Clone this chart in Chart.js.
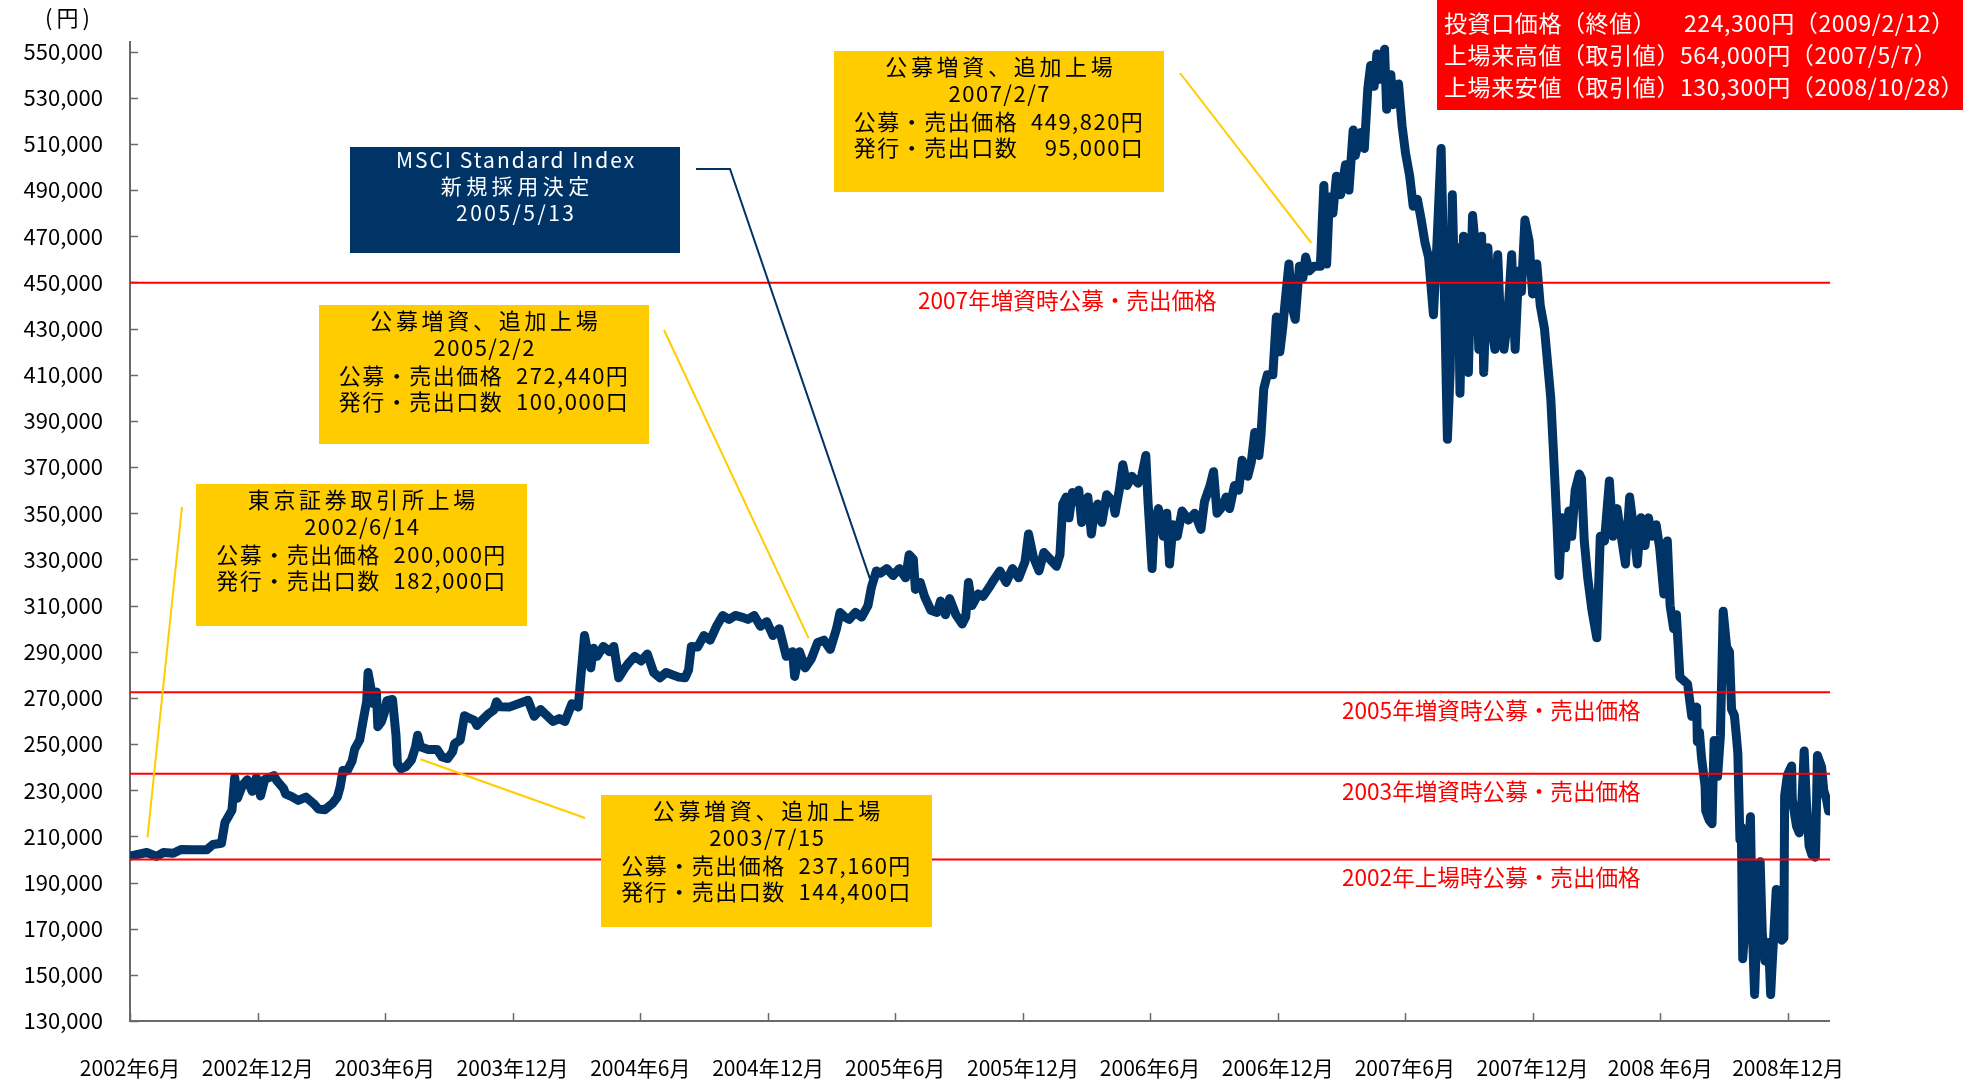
<!DOCTYPE html>
<html lang="ja">
<head>
<meta charset="utf-8">
<title>投資口価格の推移</title>
<script src="https://cdn.jsdelivr.net/npm/chart.js@4.4.1/dist/chart.umd.min.js"></script>
<style>
  html, body { margin: 0; padding: 0; background: #ffffff; }
  #wrap { position: relative; width: 1973px; height: 1082px; }
  canvas { display: block; }
</style>
</head>
<body>
<div id="wrap"><canvas id="chart" width="1973" height="1082"></canvas></div>
<script>
// 投資口価格（終値, 円）— [日付, 終値]
const close2002 = [
  ['2002-06-14',201500],['2002-07-08',203000],['2002-07-22',201300],['2002-08-01',203000],['2002-08-15',202700],
  ['2002-08-26',204300],['2002-09-13',204200],['2002-10-02',204200],['2002-10-11',206500],['2002-10-23',207000],
  ['2002-10-28',216000],['2002-11-07',221300],['2002-11-11',235500],['2002-11-15',226500],['2002-11-22',232100],
  ['2002-11-29',234500],['2002-12-06',229500],['2002-12-12',235500],['2002-12-18',227500],['2002-12-24',234700]
];
const close2003 = [
  ['2003-01-06',236300],['2003-01-10',234300],['2003-01-20',230700],['2003-01-23',228300],['2003-01-31',227300],
  ['2003-02-10',225600],['2003-02-21',227000],['2003-03-04',224200],['2003-03-11',221800],['2003-03-20',221500],
  ['2003-03-31',224200],['2003-04-07',227000],['2003-04-11',231400],['2003-04-15',238500],['2003-04-21',238300],
  ['2003-04-28',242500],['2003-05-02',248000],['2003-05-09',251700],['2003-05-14',260300],['2003-05-19',268500],
  ['2003-05-21',281000],['2003-05-26',272600],['2003-05-28',267600],['2003-06-02',272500],['2003-06-04',257500],
  ['2003-06-09',259600],['2003-06-13',263200],['2003-06-17',268800],['2003-06-25',269300],['2003-06-30',253800],
  ['2003-07-02',241500],['2003-07-07',239300],['2003-07-14',240100],['2003-07-22',243000],['2003-07-28',248800],
  ['2003-07-31',253800],['2003-08-04',248800],['2003-08-15',247600],['2003-08-28',247600],['2003-09-04',244400],
  ['2003-09-12',243700],['2003-09-19',246600],['2003-09-22',250200],['2003-09-30',251700],['2003-10-06',262300],
  ['2003-10-09',261800],['2003-10-20',260300],['2003-10-24',258000],['2003-10-31',260300],['2003-11-10',263200],
  ['2003-11-17',264700],['2003-11-21',268300],['2003-11-26',266100],['2003-12-09',266000]
];
const close2004 = [
  ['2004-01-05',269000],['2004-01-14',262000],['2004-01-23',265000],['2004-02-10',259800],['2004-02-19',261000],
  ['2004-02-27',259800],['2004-03-08',267500],['2004-03-17',266000],['2004-03-21',280000],['2004-03-26',297000],
  ['2004-04-04',283000],['2004-04-08',291500],['2004-04-13',288000],['2004-04-22',292300],['2004-05-01',290000],
  ['2004-05-07',292300],['2004-05-14',278700],['2004-05-23',283000],['2004-05-28',285000],['2004-06-06',288000],
  ['2004-06-15',286000],['2004-06-24',289000],['2004-07-03',281000],['2004-07-12',278700],['2004-07-21',281000],
  ['2004-08-08',279000],['2004-08-17',278700],['2004-08-22',282000],['2004-08-26',292300],['2004-09-04',292000],
  ['2004-09-13',297000],['2004-09-22',295000],['2004-10-01',301000],['2004-10-10',305700],['2004-10-19',304000],
  ['2004-10-28',305700],['2004-11-06',305000],['2004-11-15',304000],['2004-11-24',305700],['2004-12-03',301000],
  ['2004-12-12',303000],['2004-12-21',297000],['2004-12-30',300000]
];
const close2005 = [
  ['2005-01-09',288000],['2005-01-18',290000],['2005-01-21',279300],['2005-01-28',290000],['2005-02-05',283000],
  ['2005-02-14',287000],['2005-02-23',294000],['2005-03-04',295000],['2005-03-13',291000],['2005-03-22',300000],
  ['2005-03-27',307000],['2005-04-03',305000],['2005-04-09',304000],['2005-04-18',307000],['2005-04-27',305000],
  ['2005-05-06',310000],['2005-05-11',318000],['2005-05-18',325000],['2005-05-24',324000],['2005-06-02',326000],
  ['2005-06-11',323000],['2005-06-20',326000],['2005-06-29',322000],['2005-07-04',332000],['2005-07-10',330000],
  ['2005-07-13',317000],['2005-07-20',320000],['2005-07-26',314000],['2005-08-04',308000],['2005-08-13',307000],
  ['2005-08-18',312000],['2005-08-25',306000],['2005-08-31',313000],['2005-09-09',306000],['2005-09-18',302000],
  ['2005-09-23',305000],['2005-09-27',320000],['2005-10-02',310000],['2005-10-11',315000],['2005-10-18',314000],
  ['2005-10-27',318000],['2005-11-02',321000],['2005-11-11',325000],['2005-11-20',320000],['2005-11-29',326000],
  ['2005-12-08',322000],['2005-12-17',329000],['2005-12-22',341000],['2005-12-29',331000]
];
const close2006 = [
  ['2006-01-06',325000],['2006-01-13',333000],['2006-01-22',330000],['2006-01-31',327000],['2006-02-05',332000],
  ['2006-02-09',354000],['2006-02-14',357000],['2006-02-18',348000],['2006-02-23',359000],['2006-02-27',355000],
  ['2006-03-04',360000],['2006-03-08',346000],['2006-03-17',357000],['2006-03-22',341000],['2006-03-26',350000],
  ['2006-03-31',354000],['2006-04-06',346000],['2006-04-13',358000],['2006-04-22',355000],['2006-04-25',350000],
  ['2006-05-01',360000],['2006-05-06',371000],['2006-05-12',362000],['2006-05-19',366000],['2006-05-28',363000],
  ['2006-06-02',366000],['2006-06-08',375000],['2006-06-11',356000],['2006-06-17',326000],['2006-06-20',345000],
  ['2006-06-26',352000],['2006-07-03',340000],['2006-07-08',350000],['2006-07-12',328000],['2006-07-17',345000],
  ['2006-07-23',340000],['2006-07-30',351000],['2006-08-08',347000],['2006-08-17',350000],['2006-08-26',343000],
  ['2006-08-31',355000],['2006-09-08',362000],['2006-09-13',368000],['2006-09-18',350000],['2006-09-26',353000],
  ['2006-10-01',357000],['2006-10-06',352000],['2006-10-13',362000],['2006-10-19',360000],['2006-10-24',373000],
  ['2006-11-01',366000],['2006-11-06',372000],['2006-11-11',385000],['2006-11-17',375000],['2006-11-20',384000],
  ['2006-11-24',404000],['2006-11-29',410000],['2006-12-07',410000],['2006-12-12',435000],['2006-12-17',420000],
  ['2006-12-21',430000],['2006-12-25',443000],['2006-12-30',458000]
];
const close2007 = [
  ['2007-01-03',440000],['2007-01-08',434000],['2007-01-14',457000],['2007-01-19',452000],['2007-01-23',461000],
  ['2007-01-28',455000],['2007-02-04',457000],['2007-02-13',457000],['2007-02-18',492000],['2007-02-22',458000],
  ['2007-02-26',487000],['2007-03-03',480000],['2007-03-08',496000],['2007-03-14',488000],['2007-03-21',501000],
  ['2007-03-26',490000],['2007-04-01',516000],['2007-04-04',505000],['2007-04-12',515000],['2007-04-17',508000],
  ['2007-04-22',534000],['2007-04-26',544000],['2007-05-01',535000],['2007-05-05',549000],['2007-05-10',538000],
  ['2007-05-16',551000],['2007-05-19',525000],['2007-05-25',540000],['2007-05-28',527000],['2007-06-05',536000],
  ['2007-06-10',518000],['2007-06-15',506000],['2007-06-21',496000],['2007-06-26',483000],['2007-07-02',486000],
  ['2007-07-07',478000],['2007-07-13',467000],['2007-07-18',461000],['2007-07-25',436000],['2007-07-29',460000],
  ['2007-08-05',508000],['2007-08-09',455000],['2007-08-14',382000],['2007-08-18',412000],['2007-08-21',488000],
  ['2007-08-25',440000],['2007-08-29',465000],['2007-09-01',402000],['2007-09-06',470000],['2007-09-10',455000],
  ['2007-09-13',411000],['2007-09-19',479000],['2007-09-24',462000],['2007-09-28',421000],['2007-10-02',470000],
  ['2007-10-05',411000],['2007-10-11',465000],['2007-10-16',432000],['2007-10-21',421000],['2007-10-25',462000],
  ['2007-10-28',440000],['2007-11-03',421000],['2007-11-08',433000],['2007-11-14',462000],['2007-11-19',421000],
  ['2007-11-24',455000],['2007-11-28',446000],['2007-12-03',477000],['2007-12-09',468000],['2007-12-14',445000],
  ['2007-12-20',458000],['2007-12-25',440000],['2007-12-31',430000]
];
const close2008 = [
  ['2008-01-03',420000],['2008-01-09',400000],['2008-01-14',370000],['2008-01-18',345000],['2008-01-21',323000],
  ['2008-01-25',348000],['2008-01-30',335000],['2008-02-04',351000],['2008-02-08',340000],['2008-02-13',360000],
  ['2008-02-19',367000],['2008-02-22',365000],['2008-02-26',338000],['2008-03-02',322000],['2008-03-08',308000],
  ['2008-03-15',296000],['2008-03-20',340000],['2008-03-26',338000],['2008-04-02',364000],['2008-04-07',340000],
  ['2008-04-13',352000],['2008-04-20',338000],['2008-04-25',328000],['2008-05-01',357000],['2008-05-06',345000],
  ['2008-05-12',328000],['2008-05-17',348000],['2008-05-23',336000],['2008-05-28',348000],['2008-06-02',340000],
  ['2008-06-08',345000],['2008-06-13',335000],['2008-06-19',315000],['2008-06-24',338000],['2008-06-28',310000],
  ['2008-07-03',300000],['2008-07-07',306000],['2008-07-12',279000],['2008-07-23',276000],['2008-07-29',262000],
  ['2008-08-05',266000],['2008-08-06',251000],['2008-08-09',255000],['2008-08-12',244000],['2008-08-17',232000],
  ['2008-08-18',221000],['2008-08-23',217000],['2008-08-27',215500],['2008-08-30',251500],['2008-09-04',236000],
  ['2008-09-08',253500],['2008-09-12',307500],['2008-09-17',292000],['2008-09-21',290000],['2008-09-24',265000],
  ['2008-09-28',262500],['2008-10-01',253000],['2008-10-03',246000],['2008-10-06',208500],['2008-10-08',214000],
  ['2008-10-10',157000],['2008-10-15',179000],['2008-10-21',218500],['2008-10-24',168000],['2008-10-27',141500],
  ['2008-10-30',168000],['2008-11-04',199000],['2008-11-07',168000],['2008-11-11',156000],['2008-11-16',164000],
  ['2008-11-19',141500],['2008-11-21',153600],['2008-11-27',187000],['2008-12-05',165000],['2008-12-08',166000],
  ['2008-12-09',227500],['2008-12-13',236500],['2008-12-19',240500],['2008-12-20',226000],['2008-12-26',214500],
  ['2008-12-30',211500]
];
const close2009 = [
  ['2009-01-02',220000],['2009-01-06',247000],['2009-01-09',226000],['2009-01-13',206000],['2009-01-17',202000],
  ['2009-01-22',201000],['2009-01-23',214000],['2009-01-25',245000],['2009-01-31',240000],['2009-02-03',230000],
  ['2009-02-07',226000],['2009-02-10',221000],['2009-02-12',224300]
];

// 公募・売出価格（円）と注記
const offerPrices = [449820, 272440, 237160, 200000];
const offerLabels = ['2007年増資時公募・売出価格', '2005年増資時公募・売出価格', '2003年増資時公募・売出価格', '2002年上場時公募・売出価格'];

// 軸目盛
const xTickDates  = ['2002-06-14','2002-12-14','2003-06-14','2003-12-14','2004-06-14','2004-12-14','2005-06-14',
                     '2005-12-14','2006-06-14','2006-12-14','2007-06-14','2007-12-14','2008-06-14','2008-12-14'];
const xTickLabels = ['2002年6月','2002年12月','2003年6月','2003年12月','2004年6月','2004年12月','2005年6月',
                     '2005年12月','2006年6月','2006年12月','2007年6月','2007年12月','2008 年6月','2008年12月'];
const yTickValues = [130000,150000,170000,190000,210000,230000,250000,270000,290000,310000,330000,
                     350000,370000,390000,410000,430000,450000,470000,490000,510000,530000,550000];
const xRange = ['2002-06-14', '2009-02-12'];
const yRange = [130000, 554600];

// 注記の文言
const noteListing = ['東京証券取引所上場', '2002/6/14', ['公募・売出価格', '200,000円'], ['発行・売出口数', '182,000口']];
const note2003    = ['公募増資、追加上場', '2003/7/15', ['公募・売出価格', '237,160円'], ['発行・売出口数', '144,400口']];
const note2005    = ['公募増資、追加上場', '2005/2/2',  ['公募・売出価格', '272,440円'], ['発行・売出口数', '100,000口']];
const note2007    = ['公募増資、追加上場', '2007/2/7',  ['公募・売出価格', '449,820円'], ['発行・売出口数', '95,000口']];
const noteMsci    = ['MSCI Standard Index', '新規採用決定', '2005/5/13'];
const summaryRows = [
  ['投資口価格（終値）', '224,300円（2009/2/12）'],
  ['上場来高値（取引値）', '564,000円（2007/5/7）'],
  ['上場来安値（取引値）', '130,300円（2008/10/28）']
];
const unitLabel = '(円)';

// ---------------------------------------------------------------
const FONT = "'Noto Sans CJK JP', 'Noto Sans CJK SC', sans-serif";
const NAVY = '#003366';
const GOLD = '#FFCC00';
const RED = '#FF0000';
const AXIS = '#6a6a6a';

const toDay = s => Date.UTC(+s.slice(0, 4), +s.slice(5, 7) - 1, +s.slice(8, 10)) / 864e5;
const toPoints = rows => rows.map(([d, v]) => ({ x: toDay(d), y: v }));

const pricePoints = toPoints([].concat(close2002, close2003, close2004, close2005, close2006, close2007, close2008, close2009));
const offerDatasets = offerPrices.map(p => ({
  data: [{ x: toDay(xRange[0]), y: p }, { x: toDay(xRange[1]), y: p }],
  borderColor: RED, borderWidth: 2, pointRadius: 0, order: 0
}));

// 注記ボックスの配置（行ごとの字間つき）
const noteLayout = [
  { lines: noteListing, rect: [196, 484, 331, 142], fill: GOLD, color: '#000', size: 22, spacing: [3.7, 1.5, 1.5, 1.5], rows: [16, 43, 71, 97],
    leader: { from: [182, 507], date: '2002-07-09', value: 209600, color: GOLD } },
  { lines: note2005, rect: [319, 305, 330, 139], fill: GOLD, color: '#000', size: 22, spacing: [3.7, 1.5, 1.5, 1.5], rows: [16, 43, 71, 97],
    leader: { from: [664, 330], date: '2005-02-10', value: 295900, color: GOLD } },
  { lines: note2003, rect: [601, 795, 331, 132], fill: GOLD, color: '#000', size: 22, spacing: [3.7, 1.5, 1.5, 1.5], rows: [16, 43, 71, 97],
    leader: { from: [585, 818], date: '2003-08-04', value: 243400, color: GOLD } },
  { lines: note2007, rect: [834, 51, 330, 141], fill: GOLD, color: '#000', size: 22, spacing: [3.7, 1.5, 1.5, 1.5], rows: [16, 43, 71, 97],
    leader: { from: [1180, 73], date: '2007-01-31', value: 467100, color: GOLD } },
  { lines: noteMsci, rect: [350, 147, 330, 106], fill: NAVY, color: '#fff', size: 21, spacing: [2, 4.5, 2.5], rows: [13, 39, 66],
    leader: { from: [696, 169], via: [730, 169], date: '2005-05-10', value: 320600, color: NAVY } }
];

function drawNote(ctx, n) {
  const [bx, by, bw, bh] = n.rect;
  ctx.fillStyle = n.fill;
  ctx.fillRect(bx, by, bw, bh);
  ctx.fillStyle = n.color;
  ctx.font = `${n.size}px ${FONT}`;
  ctx.textBaseline = 'middle';
  const cx = bx + bw / 2;
  let half = 0;
  if (Array.isArray(n.lines[2])) {
    ctx.letterSpacing = n.spacing[2] + 'px';
    half = ctx.measureText(n.lines[2][0] + '  ' + n.lines[2][1]).width / 2;
  }
  n.lines.forEach((ln, i) => {
    const ty = by + n.rows[i];
    ctx.letterSpacing = n.spacing[i] + 'px';
    if (Array.isArray(ln)) {
      ctx.textAlign = 'left';
      ctx.fillText(ln[0], cx - half, ty);
      ctx.textAlign = 'right';
      ctx.fillText(ln[1], cx + half, ty);
    } else {
      ctx.textAlign = 'center';
      ctx.fillText(ln, cx + n.spacing[i] / 2, ty);
    }
  });
}

const decorPlugin = {
  id: 'decor',
  beforeDatasetsDraw(chart) {
    const { ctx, chartArea: a, scales: { x, y } } = chart;
    ctx.save();
    ctx.strokeStyle = AXIS;
    ctx.lineWidth = 2;
    ctx.beginPath();
    ctx.moveTo(a.left, a.top);
    ctx.lineTo(a.left, a.bottom);
    ctx.lineTo(a.right, a.bottom);
    ctx.stroke();
    ctx.lineWidth = 1.5;
    y.ticks.forEach(t => {
      const py = Math.round(y.getPixelForValue(t.value)) + 0.5;
      ctx.beginPath(); ctx.moveTo(a.left, py); ctx.lineTo(a.left + 8, py); ctx.stroke();
    });
    x.ticks.forEach(t => {
      const px = Math.round(x.getPixelForValue(t.value)) + 0.5;
      ctx.beginPath(); ctx.moveTo(px, a.bottom); ctx.lineTo(px, a.bottom - 8); ctx.stroke();
    });
    ctx.restore();
  },
  afterDatasetsDraw(chart) {
    const { ctx, scales: { x, y } } = chart;
    ctx.save();
    // 引出線
    noteLayout.forEach(n => {
      const L = n.leader;
      ctx.strokeStyle = L.color;
      ctx.lineWidth = 2;
      ctx.beginPath();
      ctx.moveTo(L.from[0], L.from[1]);
      if (L.via) ctx.lineTo(L.via[0], L.via[1]);
      ctx.lineTo(x.getPixelForValue(toDay(L.date)), y.getPixelForValue(L.value));
      ctx.stroke();
    });
    // 注記ボックス
    noteLayout.forEach(n => drawNote(ctx, n));

    // 公募・売出価格の注記
    ctx.font = `22.6px ${FONT}`;
    ctx.letterSpacing = '0px';
    ctx.fillStyle = RED;
    ctx.textAlign = 'left';
    ctx.textBaseline = 'middle';
    offerPrices.forEach((p, i) => {
      const lx = i === 0 ? 918 : 1342;
      ctx.fillText(offerLabels[i], lx, y.getPixelForValue(p) + 18);
    });

    // 価格サマリー
    ctx.fillStyle = RED;
    ctx.fillRect(1437, 0, 526, 110);
    ctx.fillStyle = '#fff';
    ctx.font = `23px ${FONT}`;
    ctx.letterSpacing = '0.6px';
    const valueX = 1444 + ctx.measureText(summaryRows[1][0]).width + 4;
    summaryRows.forEach((r, i) => {
      const ty = 23 + i * 32;
      ctx.fillText(r[0], 1444, ty);
      ctx.fillText(r[1], i === 0 ? valueX : 1444 + ctx.measureText(r[0]).width, ty);
    });

    // 単位
    ctx.fillStyle = '#000';
    ctx.font = `22px ${FONT}`;
    ctx.letterSpacing = '4px';
    ctx.fillText(unitLabel, 45, 18);
    ctx.restore();
  }
};

new Chart(document.getElementById('chart'), {
  type: 'line',
  data: {
    datasets: [
      ...offerDatasets,
      {
        data: pricePoints,
        borderColor: NAVY,
        borderWidth: 9,
        pointRadius: 0,
        tension: 0,
        borderJoinStyle: 'round',
        borderCapStyle: 'round',
        order: 1
      }
    ]
  },
  options: {
    responsive: false,
    animation: false,
    devicePixelRatio: 1,
    layout: { padding: { top: 41, right: 143, bottom: 0, left: 0 } },
    plugins: { legend: { display: false }, tooltip: { enabled: false } },
    scales: {
      x: {
        type: 'linear',
        min: toDay(xRange[0]),
        max: toDay(xRange[1]),
        grid: { display: false, drawTicks: false },
        border: { display: false },
        afterBuildTicks: s => { s.ticks = xTickDates.map(d => ({ value: toDay(d) })); },
        afterFit: s => { s.height = 61; },
        ticks: {
          autoSkip: false,
          maxRotation: 0,
          padding: 34,
          color: '#000',
          font: { family: FONT, size: 21 },
          callback: (v, i) => xTickLabels[i]
        }
      },
      y: {
        type: 'linear',
        min: yRange[0],
        max: yRange[1],
        grid: { display: false, drawTicks: false },
        border: { display: false },
        afterBuildTicks: s => { s.ticks = yTickValues.map(v => ({ value: v })); },
        afterFit: s => { s.width = 130; },
        ticks: {
          autoSkip: false,
          padding: 27,
          color: '#000',
          font: { family: FONT, size: 22 },
          callback: v => Number(v).toLocaleString('en-US')
        }
      }
    }
  },
  plugins: [decorPlugin]
});
</script>
</body>
</html>
